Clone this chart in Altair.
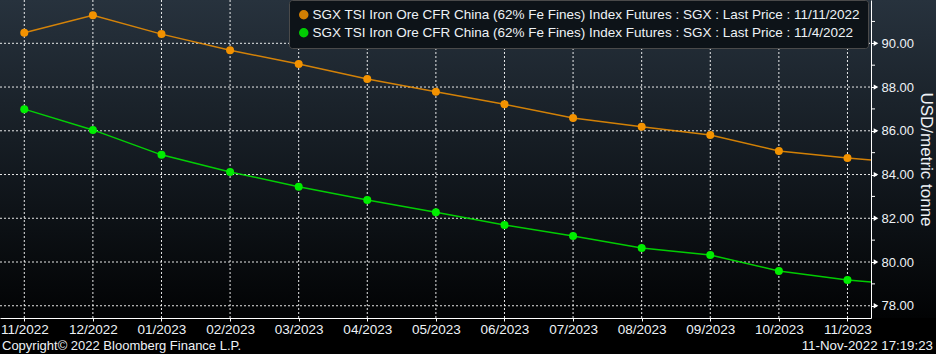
import altair as alt
import pandas as pd

# ---------------- data ----------------
months = ["11/2022", "12/2022", "01/2023", "02/2023", "03/2023", "04/2023", "05/2023",
          "06/2023", "07/2023", "08/2023", "09/2023", "10/2023", "11/2023"]
series_names = [
    "SGX TSI Iron Ore CFR China (62% Fe Fines) Index Futures : SGX : Last Price : 11/11/2022",
    "SGX TSI Iron Ore CFR China (62% Fe Fines) Index Futures : SGX : Last Price : 11/4/2022",
]
price_nov11 = [90.48, 91.28, 90.42, 89.68, 89.05, 88.37, 87.78, 87.21, 86.58, 86.18, 85.81, 85.08, 84.76]
price_nov4 = [86.99, 86.04, 84.90, 84.12, 83.44, 82.84, 82.28, 81.69, 81.19, 80.64, 80.32, 79.59, 79.18]
# 12/2023 contract: only visible as the line segment running off the right edge
next_nov11 = 84.49
next_nov4 = 78.90

major_ticks = [78, 80, 82, 84, 86, 88, 90]
minor_ticks = [79, 81, 83, 85, 87, 89, 91]

point_colors = ["#f39200", "#00ee00"]

# ---------------- tables ----------------
rows_pts = []
for i, m in enumerate(months):
    rows_pts.append({"idx": i, "value": price_nov11[i], "series": series_names[0]})
    rows_pts.append({"idx": i, "value": price_nov4[i], "series": series_names[1]})
pts = pd.DataFrame(rows_pts)
lines = pd.concat([pts, pd.DataFrame([
    {"idx": len(months), "value": next_nov11, "series": series_names[0]},
    {"idx": len(months), "value": next_nov4, "series": series_names[1]},
])], ignore_index=True)

W, H = 871, 318
FONT = "Liberation Sans"
TXT = "#eef2f6"
label_expr = "[" + ",".join(f"'{m}'" for m in months) + "][datum.value]"

xscale = alt.Scale(domain=[-0.354, 12.343], nice=False, zero=False)
yscale = alt.Scale(domain=[77.44, 91.98], nice=False, zero=False)
cscale = alt.Scale(domain=series_names, range=point_colors)
legend = alt.Legend(title=None, orient="none", legendX=289, legendY=0,
                    symbolType="circle", symbolSize=64,
                    fillColor="#0d1318", strokeColor="#4a4a4a",
                    cornerRadius=3, padding=8, rowPadding=3,
                    labelOffset=2, labelLimit=1000, labelFontSize=13.5,
                    labelColor=TXT, labelFont=FONT)

bg = alt.Chart(alt.Data(values=[{"a": 1}])).mark_rect(
    color=alt.Gradient(
        gradient="linear",
        stops=[alt.GradientStop(color="#27323d", offset=0),
               alt.GradientStop(color="#12181e", offset=0.55),
               alt.GradientStop(color="#020304", offset=1)],
        x1=0, x2=0, y1=0, y2=1),
).encode(x=alt.value(0), x2=alt.value(936), y=alt.value(0), y2=alt.value(H))

vgrid = alt.Chart(pd.DataFrame({"idx": list(range(len(months)))})).mark_rule(
    color="#ffffff", strokeDash=[2, 2], strokeWidth=1, opacity=0.9
).encode(x=alt.X("idx:Q", scale=xscale), y=alt.value(0), y2=alt.value(H))

hgrid = alt.Chart(pd.DataFrame({"value": major_ticks})).mark_rule(
    color="#ffffff", strokeDash=[2, 2], strokeWidth=1, opacity=0.9
).encode(y=alt.Y("value:Q", scale=yscale), x=alt.value(0), x2=alt.value(W))

line_layer = alt.Chart(lines).mark_line(strokeWidth=1.5, clip=True, opacity=0.85).encode(
    x=alt.X("idx:Q", scale=xscale, title=None,
            axis=alt.Axis(values=list(range(len(months))), labelExpr=label_expr,
                          grid=False, zindex=1,
                          domainColor="#ffffff", tickColor="#ffffff", tickSize=3,
                          labelPadding=1, labelFontSize=13.5)),
    y=alt.Y("value:Q", scale=yscale, title="USD/metric tonne",
            axis=alt.Axis(orient="right", values=major_ticks, format=".2f",
                          grid=False, zindex=1,
                          domainColor="#ffffff", tickColor="#ffffff", tickSize=5,
                          labelPadding=5, labelFontSize=13,
                          titleFontSize=17, titleFontWeight="normal", titlePadding=3)),
    color=alt.Color("series:N", scale=cscale, legend=legend),
)

point_layer = alt.Chart(pts).mark_circle(size=64, opacity=1).encode(
    x=alt.X("idx:Q", scale=xscale),
    y=alt.Y("value:Q", scale=yscale),
    color=alt.Color("series:N", scale=cscale, legend=legend),
)

minor = alt.Chart(pd.DataFrame({"value": minor_ticks})).mark_rule(color="#ffffff").encode(
    x=alt.value(W), x2=alt.value(W + 4), y=alt.Y("value:Q", scale=yscale))

arrows = alt.Chart(pd.DataFrame({"value": major_ticks})).mark_point(
    shape="triangle-right", filled=True, color="#ffffff", size=28, opacity=1
).encode(x=alt.value(W + 5), y=alt.Y("value:Q", scale=yscale))

copyright_txt = alt.Chart(alt.Data(values=[{"a": 1}])).mark_text(
    align="left", baseline="alphabetic", font=FONT, fontSize=13, color=TXT
).encode(x=alt.value(2), y=alt.value(349.5), text=alt.value("Copyright© 2022 Bloomberg Finance L.P."))

stamp_txt = alt.Chart(alt.Data(values=[{"a": 1}])).mark_text(
    align="right", baseline="alphabetic", font=FONT, fontSize=13.3, color=TXT
).encode(x=alt.value(933), y=alt.value(349.5), text=alt.value("11-Nov-2022 17:19:23"))

chart = alt.layer(bg, vgrid, hgrid, line_layer, point_layer, minor, arrows,
                  copyright_txt, stamp_txt).properties(
    width=W, height=H,
    padding={"left": 0, "top": 0, "right": 936 - W, "bottom": 354 - H},
    autosize=alt.AutoSizeParams(type="none"),
    background="#000000"
).configure_view(stroke=None).configure_axis(
    labelFont=FONT, titleFont=FONT, labelColor=TXT, titleColor=TXT
).configure_legend(zindex=2)

chart.save("out.html", embed_options={"renderer": "svg", "actions": False})
